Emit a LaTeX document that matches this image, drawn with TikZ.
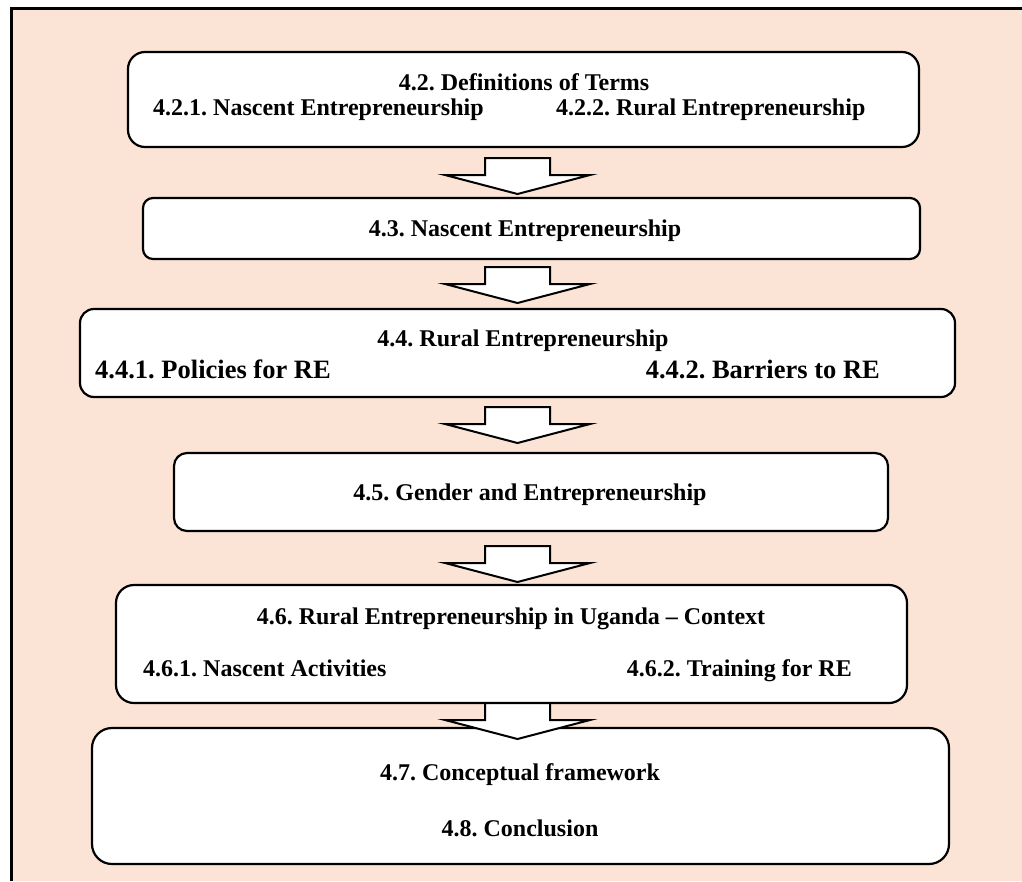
\documentclass[tikz,border=0pt]{standalone}
\usepackage{fontspec}
\setmainfont{Liberation Serif}
\definecolor{peach}{HTML}{FBE4D5}
\frenchspacing
\begin{document}
\begin{tikzpicture}[x=1pt,y=-1pt,
  box/.style={draw=black, line width=2.2pt, fill=white, inner sep=0pt},
  txt/.style={inner sep=0pt, font=\bfseries\fontsize{24}{28}\selectfont},
  bigtxt/.style={inner sep=0pt, font=\bfseries\fontsize{26.5}{30}\selectfont},
  arr/.style={draw=black, line width=2pt, fill=white, line join=miter}]
\useasboundingbox (0,0) rectangle (1022,881);
\fill[peach] (11.5,8) rectangle (1022,881);
\draw[line width=3pt] (11.5,881) -- (11.5,8) -- (1022,8);

\newcommand{\blkarrow}[1]{\draw[arr, shift={(#1)}] (-32.5,0) -- (32.5,0) -- (32.5,17) -- (72.5,17) -- (0,36) -- (-72.5,17) -- (-32.5,17) -- cycle;}

% boxes
\node[box, rounded corners=17pt, minimum width=791pt, minimum height=95pt] (b1) at (523.5,99.5) {};
\node[box, rounded corners=10pt, minimum width=777pt, minimum height=61pt] (b2) at (531.5,228.5) {};
\node[box, rounded corners=14pt, minimum width=875pt, minimum height=88pt] (b3) at (517.5,353) {};
\node[box, rounded corners=13pt, minimum width=714pt, minimum height=78pt] (b4) at (531,492) {};
\node[box, rounded corners=18pt, minimum width=791pt, minimum height=118pt] (b5) at (511.5,644) {};
\node[box, rounded corners=20pt, minimum width=857pt, minimum height=136pt] (b6) at (520.5,796) {};

% texts
\node[txt, anchor=base] (t1) at (524,90) {4.2. Definitions of Terms};
\node[txt, anchor=base west] (t1a) at (153,115) {4.2.1. Nascent Entrepreneurship};
\node[txt, anchor=base west] (t1b) at (556,115) {4.2.2. Rural Entrepreneurship};
\node[txt, anchor=base] (t2) at (525,236.5) {4.3. Nascent Entrepreneurship};
\node[txt, anchor=base] (t3) at (523,346) {4.4. Rural Entrepreneurship};
\node[bigtxt, anchor=base west] (t3a) at (95,378) {4.4.1. Policies for RE};
\node[bigtxt, anchor=base east] (t3b) at (880,378) {4.4.2. Barriers to RE};
\node[txt, anchor=base] (t4) at (530,500) {4.5. Gender and Entrepreneurship};
\node[txt, anchor=base] (t5) at (511,624) {4.6. Rural Entrepreneurship in Uganda – Context};
\node[txt, anchor=base west] (t5a) at (143,676) {4.6.1. Nascent Activities};
\node[txt, anchor=base east] (t5b) at (852,676) {4.6.2. Training for RE};
\node[txt, anchor=base] (t6) at (520,780) {4.7. Conceptual framework};
\node[txt, anchor=base] (t6a) at (520,836) {4.8. Conclusion};

% block arrows
\coordinate (a1) at (517.5,158);
\coordinate (a2) at (517.5,267);
\coordinate (a3) at (517.5,407);
\coordinate (a4) at (517.5,546);
\coordinate (a5) at (517.5,703);
\blkarrow{a1}
\blkarrow{a2}
\blkarrow{a3}
\blkarrow{a4}
\blkarrow{a5}
\end{tikzpicture}
\end{document}
